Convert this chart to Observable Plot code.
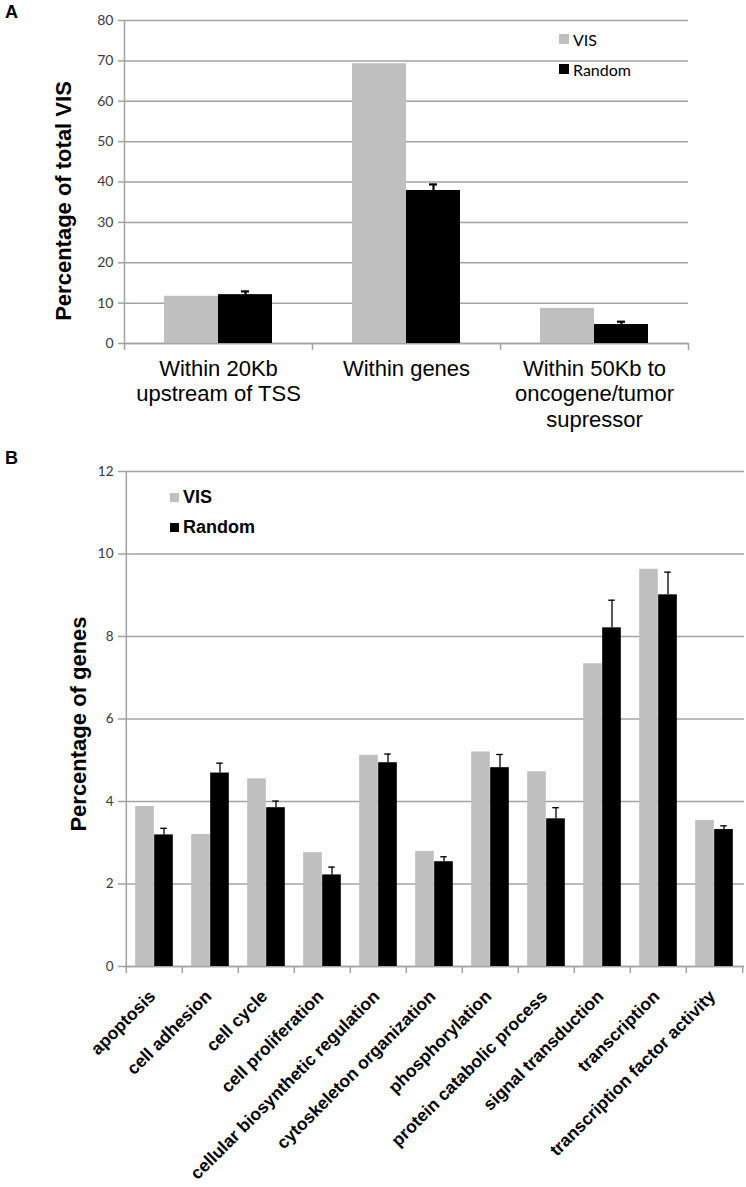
<!DOCTYPE html>
<html><head><meta charset="utf-8">
<script src="https://cdn.jsdelivr.net/npm/d3@7"></script>
<script src="https://cdn.jsdelivr.net/npm/@observablehq/plot@0.6"></script>
<style>
html,body{margin:0;padding:0;background:#fff;}
#root{position:relative;width:746px;height:1187px;overflow:hidden;background:#fff;font-family:"Liberation Sans",Arial,sans-serif;}
.panel{position:absolute;left:0;}
.plabel{position:absolute;font-weight:bold;font-size:18px;color:#000;line-height:1;}
.leg{position:absolute;display:flex;align-items:center;white-space:nowrap;color:#000;}
.sw{display:inline-block;margin-right:4px;}
</style></head><body><div id="root"></div>
<script>
// ---------- Data ----------
const seriesNames = ["VIS", "Random"];
const seriesColors = ["#bfbfbf", "#000000"];

// Panel A
const regionCategories = ["Within 20Kb\nupstream of TSS", "Within genes", "Within 50Kb to\noncogene/tumor\nsupressor"];
const regionVIS = [11.7, 69.3, 8.7];
const regionRandom = [12.1, 37.9, 4.7];
const regionRandomErr = [0.8, 1.5, 0.7];
const regionTicks = [0, 10, 20, 30, 40, 50, 60, 70, 80];
const regionYTitle = "Percentage of total VIS";

// Panel B
const goCategories = ["apoptosis", "cell adhesion", "cell cycle", "cell proliferation",
  "cellular biosynthetic regulation", "cytoskeleton organization", "phosphorylation",
  "protein catabolic process", "signal transduction", "transcription", "transcription factor activity"];
const goVIS = [3.88, 3.20, 4.55, 2.76, 5.12, 2.79, 5.20, 4.72, 7.34, 9.63, 3.54];
const goRandom = [3.19, 4.69, 3.85, 2.22, 4.94, 2.54, 4.82, 3.58, 8.21, 9.01, 3.32];
const goRandomErr = [0.16, 0.24, 0.16, 0.19, 0.21, 0.12, 0.32, 0.27, 0.67, 0.55, 0.09];
const goTicks = [0, 2, 4, 6, 8, 10, 12];
const goYTitle = "Percentage of genes";

// ---------- Drawing ----------
const gridColor = "#a3a3a3";
const tickFont = "Lato, 'Open Sans', sans-serif";
const mainFont = "'Liberation Sans', Arial, sans-serif";

function groupedBars(cfg) {
  const rows = cfg.categories.map((c, i) => ({cat: c, vis: cfg.vis[i], rnd: cfg.rnd[i], err: cfg.err[i]}));
  const plotW = cfg.width - cfg.marginLeft - cfg.marginRight;
  const plotH = cfg.height - cfg.marginTop - cfg.marginBottom;
  const bw = plotW / cfg.categories.length;
  const outer = (bw - 2 * cfg.barW) / 2;
  const yMax = cfg.ticks[cfg.ticks.length - 1];
  const tickUnits = 7 * yMax / plotH;
  const first = cfg.categories[0], last = cfg.categories[cfg.categories.length - 1];
  return Plot.plot({
    width: cfg.width, height: cfg.height,
    marginTop: cfg.marginTop, marginBottom: cfg.marginBottom,
    marginLeft: cfg.marginLeft, marginRight: cfg.marginRight,
    style: {background: "transparent", overflow: "visible", fontFamily: mainFont},
    x: {domain: cfg.categories, padding: 0, axis: null},
    y: {domain: [0, yMax], axis: null},
    marks: [
      Plot.gridY(cfg.ticks, {stroke: gridColor, strokeOpacity: 1, strokeWidth: 1.5}),
      Plot.axisY(cfg.ticks, {tickSize: 6, tickPadding: 5, stroke: gridColor, strokeWidth: 1.5,
        fill: "#3a3a3a", fontSize: cfg.tickFontSize, fontFamily: tickFont, label: null}),
      Plot.ruleX([first], {dx: -bw / 2, stroke: gridColor, strokeWidth: 1.5}),
      Plot.ruleY([0], {stroke: gridColor, strokeWidth: 1.5}),
      Plot.ruleX(cfg.categories, {x: d => d, dx: -bw / 2, y1: 0, y2: -tickUnits, stroke: gridColor, strokeWidth: 1.5}),
      Plot.ruleX([last], {dx: bw / 2, y1: 0, y2: -tickUnits, stroke: gridColor, strokeWidth: 1.5}),
      Plot.barY(rows, {x: "cat", y: "vis", fill: seriesColors[0], insetLeft: outer, insetRight: bw - outer - cfg.barW}),
      Plot.barY(rows, {x: "cat", y: "rnd", fill: seriesColors[1], insetLeft: outer + cfg.barW, insetRight: outer}),
      Plot.ruleX(rows, {x: "cat", y1: "rnd", y2: d => d.rnd + d.err, dx: cfg.barW / 2, stroke: "#000", strokeWidth: cfg.errWidth}),
      Plot.tickY(rows, {x: "cat", y: d => d.rnd + d.err, dx: cfg.barW / 2,
        insetLeft: bw / 2 - cfg.capHalf, insetRight: bw / 2 - cfg.capHalf, stroke: "#000", strokeWidth: cfg.errWidth}),
      Plot.text([cfg.yTitle], {frameAnchor: "left", textAnchor: "middle", rotate: -90, dx: cfg.titleDx, dy: cfg.titleDy,
        fontSize: cfg.titleSize, fontWeight: "bold", fontFamily: mainFont, fill: "#000"}),
      ...cfg.labelMarks(bw)
    ]
  });
}

const root = document.getElementById("root");

function place(el, top) {
  const wrap = document.createElement("div");
  wrap.className = "panel";
  wrap.style.top = top + "px";
  wrap.appendChild(el);
  root.appendChild(wrap);
}

// Panel A
const svgA = groupedBars({
  categories: regionCategories, vis: regionVIS, rnd: regionRandom, err: regionRandomErr,
  ticks: regionTicks, yTitle: regionYTitle,
  width: 746, height: 450, marginTop: 20, marginBottom: 107, marginLeft: 124, marginRight: 58,
  barW: 54, errWidth: 2.2, capHalf: 4, tickFontSize: 14,
  titleDx: -61, titleDy: 19, titleSize: 22,
  labelMarks: () => [
    Plot.text(regionCategories, {x: d => d, text: d => d, frameAnchor: "bottom", lineAnchor: "top",
      dy: 14, fontSize: 22, lineHeight: 1.16, fontFamily: mainFont, fill: "#000"})
  ]
});
place(svgA, 0);

// Panel B
const svgB = groupedBars({
  categories: goCategories, vis: goVIS, rnd: goRandom, err: goRandomErr,
  ticks: goTicks, yTitle: goYTitle,
  width: 746, height: 737, marginTop: 21, marginBottom: 221, marginLeft: 124, marginRight: 2,
  barW: 19, errWidth: 1.3, capHalf: 3.5, tickFontSize: 13.5,
  titleDx: -46, titleDy: 5, titleSize: 22,
  labelMarks: () => [
    Plot.text(goCategories, {x: d => d, text: d => d, frameAnchor: "bottom", rotate: -45,
      textAnchor: "end", lineAnchor: "middle", dx: -2, dy: 27, fontSize: 17.5, fontWeight: "bold",
      fontFamily: mainFont, fill: "#000"})
  ]
});
place(svgB, 450);

// Panel letters
for (const [t, top] of [["A", 3], ["B", 449]]) {
  const d = document.createElement("div");
  d.className = "plabel"; d.textContent = t;
  d.style.left = "5px"; d.style.top = top + "px";
  root.appendChild(d);
}

// Legends
function legend(items, left, top, gap, sw, fontSize, bold, family) {
  items.forEach((name, i) => {
    const row = document.createElement("div");
    row.className = "leg";
    row.style.left = left + "px";
    row.style.top = (top + i * gap) + "px";
    row.style.fontSize = fontSize + "px";
    row.style.fontWeight = bold ? "bold" : "normal";
    row.style.fontFamily = family;
    row.style.height = "20px";
    const s = document.createElement("span");
    s.className = "sw";
    s.style.width = sw + "px"; s.style.height = sw + "px";
    s.style.background = seriesColors[i];
    row.appendChild(s);
    row.appendChild(document.createTextNode(name));
    root.appendChild(row);
  });
}
legend(seriesNames, 559, 29, 30, 10, 16, false, tickFont);
legend(seriesNames, 170, 487, 30, 9, 18, true, mainFont);
</script></body></html>
